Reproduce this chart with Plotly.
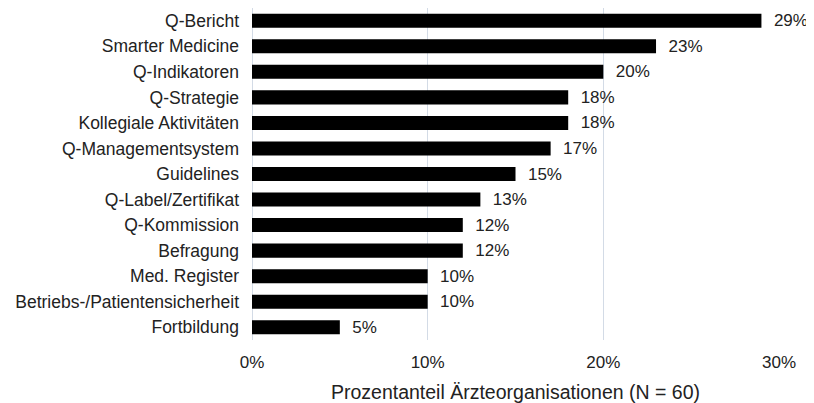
import plotly.graph_objects as go

categories = ["Q-Bericht", "Smarter Medicine", "Q-Indikatoren", "Q-Strategie",
              "Kollegiale Aktivitäten", "Q-Managementsystem", "Guidelines",
              "Q-Label/Zertifikat", "Q-Kommission", "Befragung", "Med. Register",
              "Betriebs-/Patientensicherheit", "Fortbildung"]
values = [29, 23, 20, 18, 18, 17, 15, 13, 12, 12, 10, 10, 5]
tick_vals = [0, 10, 20, 30]
tick_text = ["0%", "10%", "20%", "30%"]
x_title = "Prozentanteil Ärzteorganisationen (N = 60)"

FONT = "Liberation Sans, Arial, sans-serif"
GRID = "#d3dbe6"

labels = ["\u00a0\u00a0" + str(v) + "%" for v in values]

fig = go.Figure(go.Bar(
    x=values, y=categories, orientation="h",
    marker=dict(color="#000000", line=dict(width=0)),
    text=labels, texttemplate="%{text}", textposition="outside",
    constraintext="none",
    textfont=dict(family=FONT, size=17, color="#222222"),
    cliponaxis=False,
))

fig.update_layout(
    width=806, height=395,
    margin=dict(l=244, r=35, t=0, b=63),
    paper_bgcolor="white", plot_bgcolor="white",
    bargap=0.45,
    showlegend=False,
    font=dict(family=FONT, size=17, color="#222222"),
    xaxis=dict(
        range=[0, 30], tickvals=tick_vals, ticktext=tick_text,
        showgrid=True, gridcolor=GRID, gridwidth=1.3,
        zeroline=True, zerolinecolor=GRID, zerolinewidth=1.3,
        ticks="outside", ticklen=7, tickcolor="rgba(0,0,0,0)",
        tickfont=dict(family=FONT, size=17, color="#222222"),
        title=dict(text=x_title, font=dict(family=FONT, size=19.5, color="#222222"), standoff=16),
        automargin=False, fixedrange=True,
    ),
    yaxis=dict(
        autorange="reversed", showgrid=False, zeroline=False,
        ticks="", ticklabelstandoff=12,
        tickfont=dict(family=FONT, size=17.5, color="#222222"),
        automargin=False,
    ),
)

fig.write_html("out.html")
